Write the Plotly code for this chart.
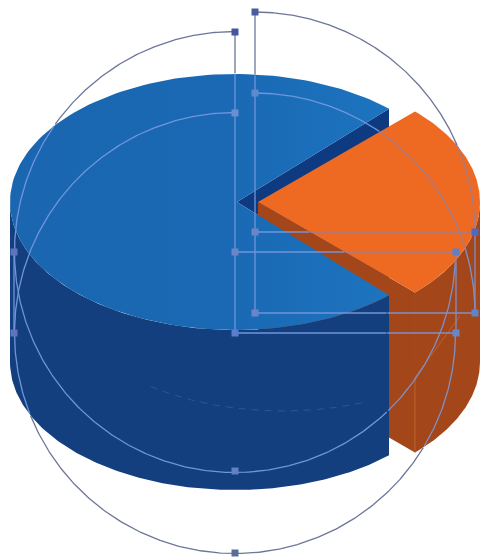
import numpy as np
import plotly.graph_objects as go

# Data: pie shares
slice_names = ["Blue share", "Orange share"]
slice_values = [74, 26]

# Colours
BLUE_TOP = "#1a69b4"
BLUE_TOP_LIGHT = "#1d74bf"
BLUE_WALL = "#143f7e"
BLUE_INNER = "#0e3a82"
ORANGE_TOP = "#ee6a22"
ORANGE_WALL = "#a3461a"
LINE_ZONE = {"white": "#6c7699", "blue": "#6f95dc", "otop": "#a07c90", "owall": "#7f90c8"}

# Geometry in picture pixels
BX, CY, BRX, RY, DEPTH = 235.0, 202.0, 225.0, 128.0, 160.0
OX, ORX = 258.0, 222.0
half = 180.0 * slice_values[1] / sum(slice_values)
ohalf = half - 1.8


def ell(cx, rx, t0, t1, dy=0.0, n=160):
    t = np.radians(np.linspace(t0, t1, n))
    return cx + rx * np.cos(t), CY + dy - RY * np.sin(t)


def poly(x, y, color, name, **kw):
    return go.Scatter(x=list(x), y=list(y), mode="lines", fill="toself", fillcolor=color,
                      line=dict(width=0, color=color), hoverinfo="skip", name=name, **kw)


fig = go.Figure()

# hole left by the pulled-out slice
ux, uy = ell(BX, BRX, half, half, n=1)
lx, ly = ell(BX, BRX, -half, -half, n=1)
fig.add_trace(poly([BX + 2, ux[0], lx[0]], [CY, uy[0], ly[0]], BLUE_INNER, "hole"))

# orange walls
ox, oy = ell(OX, ORX, -ohalf, 0)
ox2, oy2 = ell(OX, ORX, 0, -ohalf, dy=DEPTH)
fig.add_trace(poly(np.r_[ox, ox2], np.r_[oy, oy2], ORANGE_WALL, "orange outer wall"))
tipx, tipy = ell(OX, ORX, -ohalf, -ohalf, n=1)
fig.add_trace(poly([OX, tipx[0], tipx[0], OX], [CY, tipy[0], tipy[0] + DEPTH, CY + DEPTH],
                   ORANGE_WALL, "orange cut wall"))

# faint wall edges on orange
fig.add_trace(go.Scatter(x=[tipx[0], tipx[0], 460], y=[tipy[0] + DEPTH, tipy[0] + 85, 316], mode="lines",
                         line=dict(color="#bd622a", width=1), hoverinfo="skip", name="orange edges"))

# blue wall
wx, wy = ell(BX, BRX, 180, 360 - half)
wx2, wy2 = ell(BX, BRX, 360 - half, 180, dy=DEPTH)
fig.add_trace(poly(np.r_[wx, wx2], np.r_[wy, wy2], BLUE_WALL, "blue wall"))

# faint mid-height arc on the blue wall
mx, my = ell(BX + 48, BRX, 234, 292, dy=81)
fig.add_trace(go.Scatter(x=mx, y=my, mode="lines", line=dict(color="#2a5795", width=1, dash="7px,6px"),
                         hoverinfo="skip", name="mid arc"))

# blue top
tx, ty = ell(BX, BRX, half, 360 - half)
fig.add_trace(go.Scatter(x=np.r_[BX + 2, tx], y=np.r_[CY, ty], mode="lines", fill="toself",
                         line=dict(width=0, color=BLUE_TOP), hoverinfo="skip", name=slice_names[0],
                         fillgradient=dict(type="horizontal",
                                           colorscale=[[0, "#1a66b0"], [0.6, BLUE_TOP], [1, BLUE_TOP_LIGHT]])))

# orange top
qx, qy = ell(OX, ORX, -ohalf, ohalf)
fig.add_trace(poly(np.r_[OX, qx], np.r_[CY, qy], ORANGE_TOP, slice_names[1]))


# ---- editor wireframe overlay ----
def in_ell(x, y, cx, rx, dy=0.0):
    return ((x - cx) / rx) ** 2 + ((y - CY - dy) / RY) ** 2 <= 1


def zone(x, y):
    a = np.degrees(np.arctan2(-(y - CY) * ORX / RY, x - OX))
    o_top = in_ell(x, y, OX, ORX) & (np.abs(a) <= ohalf)
    cut = (x >= 387)
    o_wall = cut & (in_ell(x, y, OX, ORX, DEPTH) | ((y > CY) & (x < OX + ORX) & (y < CY + DEPTH))) & ~o_top
    blue = ((in_ell(x, y, BX, BRX) | in_ell(x, y, BX, BRX, DEPTH) |
             ((y >= CY) & (y <= CY + DEPTH) & (x >= BX - BRX))) & (x < 387)) & ~o_top
    z = np.full(x.shape, "white", dtype=object)
    z[blue] = "blue"
    z[o_wall] = "owall"
    z[o_top] = "otop"
    return z


def wire(x, y):
    x, y = np.asarray(x, float), np.asarray(y, float)
    z = zone(x, y)
    for key, col in LINE_ZONE.items():
        m = z == key
        if m.any():
            fig.add_trace(go.Scatter(x=np.where(m, x, np.nan), y=np.where(m, y, np.nan), mode="lines",
                                     line=dict(color=col, width=1.3), connectgaps=False,
                                     hoverinfo="skip", showlegend=False))


def arc(cx, cy, r, t0, t1, n=500):
    t = np.radians(np.linspace(t0, t1, n))
    return cx + r * np.cos(t), cy - r * np.sin(t)


def seg(x0, y0, x1, y1, n=300):
    return np.linspace(x0, x1, n), np.linspace(y0, y1, n)


R = 220.5
for cy in (252.0, 333.0):
    wire(*arc(235, cy, R, 90, 360))
    wire(*seg(235, cy, 456, cy))
wire(*seg(235, 32, 235, 333))
wire(*seg(14, 252, 14, 333))
wire(*seg(456, 252, 456, 333))
for cy in (232.0, 313.0):
    wire(*arc(255, cy, 220, 90, 0))
    wire(*seg(255, cy, 475, cy))
wire(*seg(255, 12, 255, 313))
wire(*seg(475, 232, 475, 313))

# handles
handle_x = [235, 255, 235, 14, 14, 235, 235, 456, 456, 235, 255, 255, 255, 475, 475, 235]
handle_y = [32, 12, 553, 252, 333, 252, 333, 252, 333, 471, 93, 232, 313, 232, 313, 113]
handle_c = ["#45569c", "#4a5c9e", "#5a6c98", "#6073bd", "#6073bd", "#6b86c8", "#5b7fd0", "#5f80c8",
            "#6687c8", "#6080c8", "#5c8acb", "#6a86c4", "#6a86c4", "#4f68c0", "#5f85c8", "#6b8fd0"]
fig.add_trace(go.Scatter(x=handle_x, y=handle_y, mode="markers",
                         marker=dict(symbol="square", size=7, color=handle_c, line=dict(width=0)),
                         hoverinfo="skip", name="handles"))

fig.update_layout(
    width=481, height=560, margin=dict(l=0, r=0, t=0, b=0), showlegend=False,
    paper_bgcolor="white", plot_bgcolor="white",
    xaxis=dict(range=[0, 481], visible=False, fixedrange=True),
    yaxis=dict(range=[560, 0], visible=False, fixedrange=True),
)
fig.write_html("out.html", config={"displayModeBar": False},
               post_script="document.body.style.margin='0';")
